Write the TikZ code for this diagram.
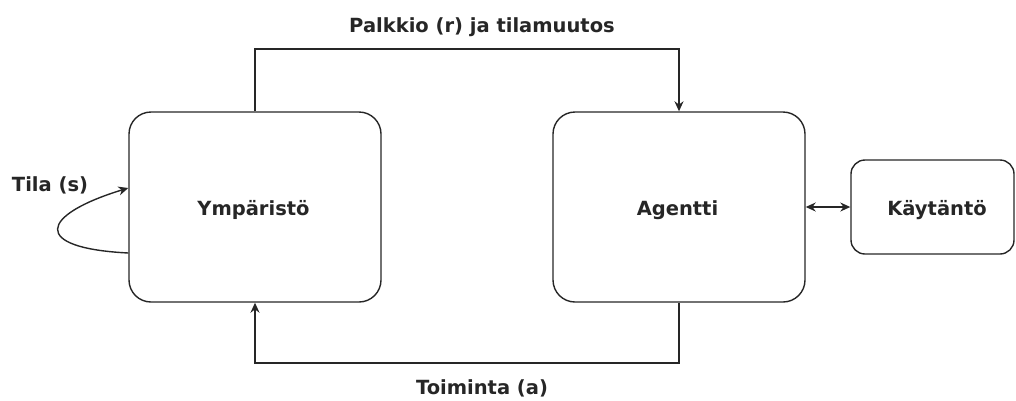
\documentclass[tikz,border=0pt]{standalone}
\usepackage{fontspec}
\setmainfont{DejaVu Sans}
\usetikzlibrary{arrows.meta}
\begin{document}
\begin{tikzpicture}[x=1pt,y=-1pt,
  box/.style={draw=black!85,line width=1.4pt,rounded corners=22pt,inner sep=0pt},
  conn/.style={draw=black!85,line width=1.4pt},
  tip/.style={-{Stealth[length=10pt,width=9pt]}},
  lbl/.style={font=\bfseries\fontsize{19.5}{22}\selectfont,text=black!85}]
\useasboundingbox (0,0) rectangle (1016,400);
\node[box,minimum width=252pt,minimum height=190pt] (env) at (255,207) {};
\node[box,minimum width=252pt,minimum height=190pt] (ag) at (679,207) {};
\node[box,rounded corners=14pt,minimum width=163pt,minimum height=94pt] (pol) at (932.5,207) {};
\node[lbl] (envt) at (253.5,210) {Ympäristö};
\node[lbl] (agt) at (677.5,210) {Agentti};
\node[lbl] (polt) at (937,210) {Käytäntö};
\node[lbl] (top) at (482,27) {Palkkio (r) ja tilamuutos};
\node[lbl] (bot) at (482,388) {Toiminta (a)};
\node[lbl] (tila) at (50,185) {Tila (s)};
\coordinate (tl) at (255,49);
\coordinate (tr) at (679,49);
\coordinate (bl) at (255,363);
\coordinate (br) at (679,363);
\draw[conn,tip] (env.north) -- (tl) -- (tr) -- (ag.north);
\draw[conn,tip] (ag.south) -- (br) -- (bl) -- (env.south);
\draw[conn,{Stealth[length=10pt,width=9pt]}-{Stealth[length=10pt,width=9pt]}] (ag.east) -- (pol.west);
\draw[conn,tip] (env.west |- 0,253) .. controls (30,248) and (40,215) .. (env.west |- 0,188);
\end{tikzpicture}
\end{document}
